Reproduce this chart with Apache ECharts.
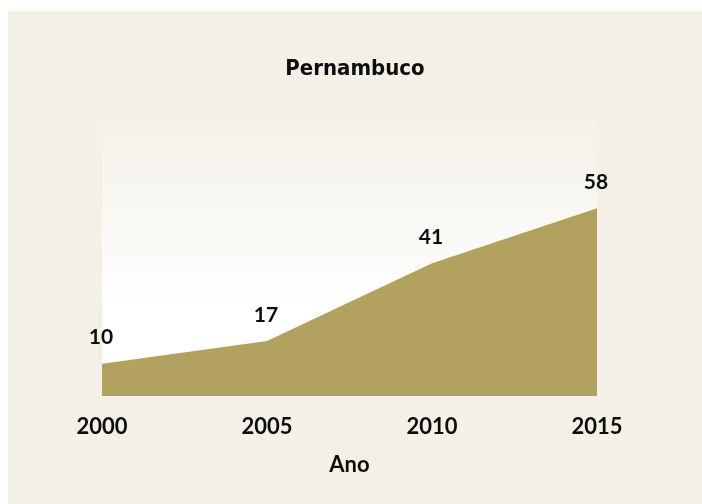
<!DOCTYPE html>
<html><head><meta charset="utf-8">
<script src="https://cdn.jsdelivr.net/npm/echarts@6/dist/echarts.min.js"></script>
<style>
html,body{margin:0;padding:0;background:#ffffff;width:702px;height:504px;overflow:hidden;}
#c{position:absolute;left:8px;top:11px;width:694px;height:493px;}
</style></head>
<body><div id="c"></div>
<script>
const titleText = 'Pernambuco';
const years = ['2000', '2005', '2010', '2015'];
const values = [10, 17, 41, 58];
const xAxisName = 'Ano';

const chart = echarts.init(document.getElementById('c'), null, {renderer: 'canvas'});
const txt = '#0d0d0d';
const ff = 'Lato';
chart.setOption({
  backgroundColor: '#f4f0e6',
  animation: false,
  title: {
    text: titleText, left: 'center', top: 42,
    textStyle: {fontFamily: "'Liberation Sans Narrow','DejaVu Sans Condensed',sans-serif", fontWeight: 'bold', fontSize: 22, color: txt}
  },
  grid: {
    left: 94, width: 495, top: 110, bottom: 108, show: true, borderWidth: 0,
    backgroundColor: {type: 'linear', x: 0, y: 0, x2: 0, y2: 1,
      colorStops: [{offset: 0, color: '#f4f1e8'}, {offset: 0.7, color: '#ffffff'}, {offset: 1, color: '#ffffff'}]}
  },
  xAxis: {
    type: 'category', data: years, boundaryGap: false,
    axisLine: {show: false}, axisTick: {show: false}, splitLine: {show: false},
    axisLabel: {fontFamily: ff, fontWeight: 'bold', fontSize: 22, color: txt, margin: 20},
    name: xAxisName, nameLocation: 'middle', nameGap: 58,
    nameTextStyle: {fontFamily: ff, fontWeight: 'bold', fontSize: 22, color: txt}
  },
  yAxis: {type: 'value', min: 0, max: 85, show: false, splitLine: {show: false}},
  series: [{
    type: 'line', data: values, symbol: 'circle', symbolSize: 1, showSymbol: true,
    itemStyle: {color: 'rgba(0,0,0,0)', borderWidth: 0},
    lineStyle: {width: 0},
    areaStyle: {color: '#b1a35f', opacity: 1},
    label: {show: true, position: 'top', distance: 15, offset: [-1, 0],
      fontFamily: ff, fontWeight: 'bold', fontSize: 21, color: txt}
  }]
});
</script></body></html>
